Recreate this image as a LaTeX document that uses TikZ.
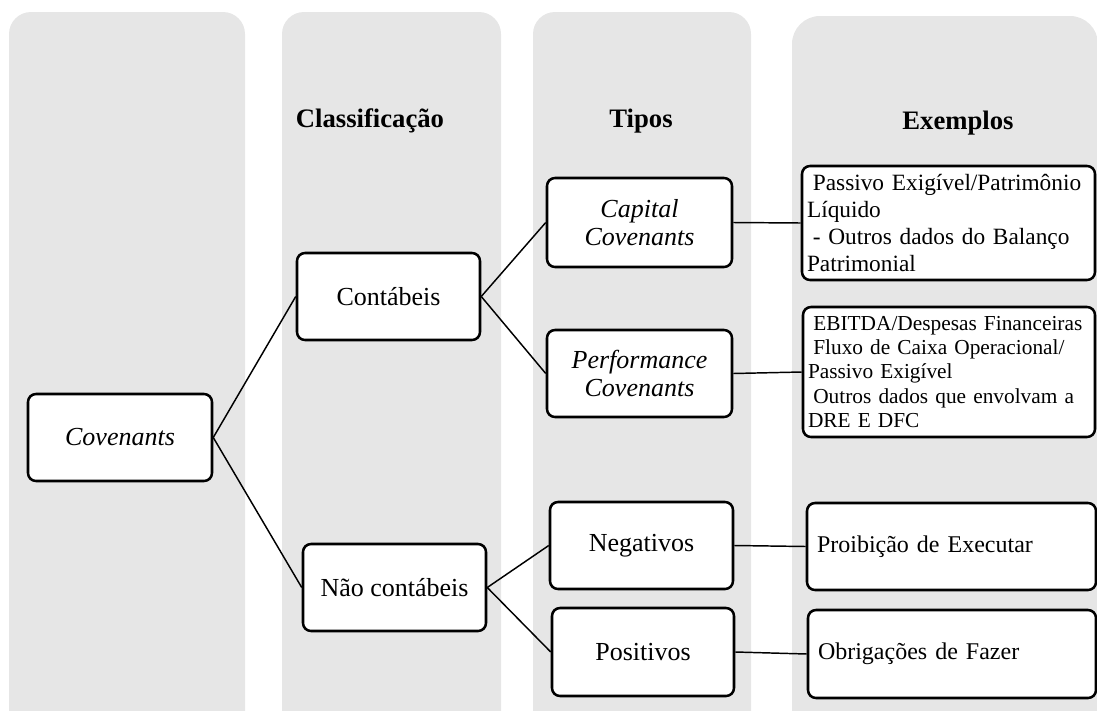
\documentclass[tikz,border=0pt]{standalone}
\usepackage{fontspec}
\setmainfont{Liberation Serif}
\definecolor{colgray}{HTML}{E6E6E6}
\begin{document}
\begin{tikzpicture}[x=0.75pt,y=-0.75pt,
  column/.style={fill=colgray, rounded corners=16.5pt},
  box/.style={draw=black, line width=1.9pt, rounded corners=6pt, fill=white, inner sep=0pt, align=center, font=\fontsize{19.5}{20.5}\selectfont},
  exbox/.style={box, align=left},
  header/.style={font=\fontsize{20}{24}\selectfont\bfseries, anchor=base, inner sep=0pt},
  link/.style={line width=1.1pt, line join=round}]
\useasboundingbox (0,0) rectangle (1097,711);
\begin{scope}
\clip (0,0) rectangle (1097,711);
\fill[column] (9,12) rectangle (245,740);
\fill[column] (282,12) rectangle (501,740);
\fill[column] (533,12) rectangle (751,740);
\fill[column, rounded corners=21pt] (792,16) rectangle (1098,740);
\end{scope}

\node[header] (hclass) at (370,127) {Classificação};
\node[header] (htipos) at (641,127) {Tipos};
\node[header] (hex) at (958,129) {Exemplos};

\node[box, minimum width=138pt, minimum height=65.25pt] (cov) at (120,437.5) {\itshape Covenants};
\node[box, minimum width=137.25pt, minimum height=65.25pt] (cont) at (388.5,296.5) {Contábeis};
\node[box, minimum width=137.25pt, minimum height=65.25pt] (ncont) at (394.5,587.5) {Não contábeis};

\node[box, minimum width=138.75pt, minimum height=66.75pt] (cap) at (639.5,222.5) {\itshape Capital\\\itshape Covenants};
\node[box, minimum width=138.75pt, minimum height=65.25pt] (perf) at (639.5,373.5) {\itshape Performance\\\itshape Covenants};
\node[box, minimum width=137.25pt, minimum height=65.25pt] (neg) at (641.5,545.5) {Negativos};
\node[box, minimum width=136.5pt, minimum height=66pt] (pos) at (643,652) {Positivos};

\node[exbox, minimum height=85.5pt, text width=212.25pt, inner xsep=3.75pt, font=\fontsize{17.5}{20.25}\selectfont] (ex1) at (948.5,223)
  {\hspace*{.25em}Passivo Exigível/Patrimônio\\Líquido\\\hspace*{.25em}- Outros dados do Balanço\\Patrimonial};
\node[exbox, minimum height=97.5pt, text width=211.5pt, inner xsep=3.75pt, font=\fontsize{16}{18.2}\selectfont] (ex2) at (949,372)
  {\hspace*{.25em}EBITDA/Despesas Financeiras\\\hspace*{.25em}Fluxo de Caixa Operacional/\\Passivo Exigível\\\hspace*{.25em}Outros dados que envolvam a\\DRE E DFC};
\node[exbox, minimum height=65.25pt, text width=201.75pt, inner xsep=7.5pt, font=\fontsize{18}{21}\selectfont] (ex3) at (951.5,546.5)
  {Proibição de Executar};
\node[exbox, minimum height=66pt, text width=201pt, inner xsep=7.5pt, font=\fontsize{18}{21}\selectfont] (ex4) at (952,654)
  {Obrigações de Fazer};

\draw[link] (cov.east) -- (cont.west);
\draw[link] (cov.east) -- (ncont.west);
\draw[link] (cont.east) -- (cap.west);
\draw[link] (cont.east) -- (perf.west);
\draw[link] (ncont.east) -- (neg.west);
\draw[link] (ncont.east) -- (pos.west);
\draw[link] (cap.east) -- (ex1.west);
\draw[link] (perf.east) -- (ex2.west);
\draw[link] (neg.east) -- (ex3.west);
\draw[link] (pos.east) -- (ex4.west);
\end{tikzpicture}
\end{document}
